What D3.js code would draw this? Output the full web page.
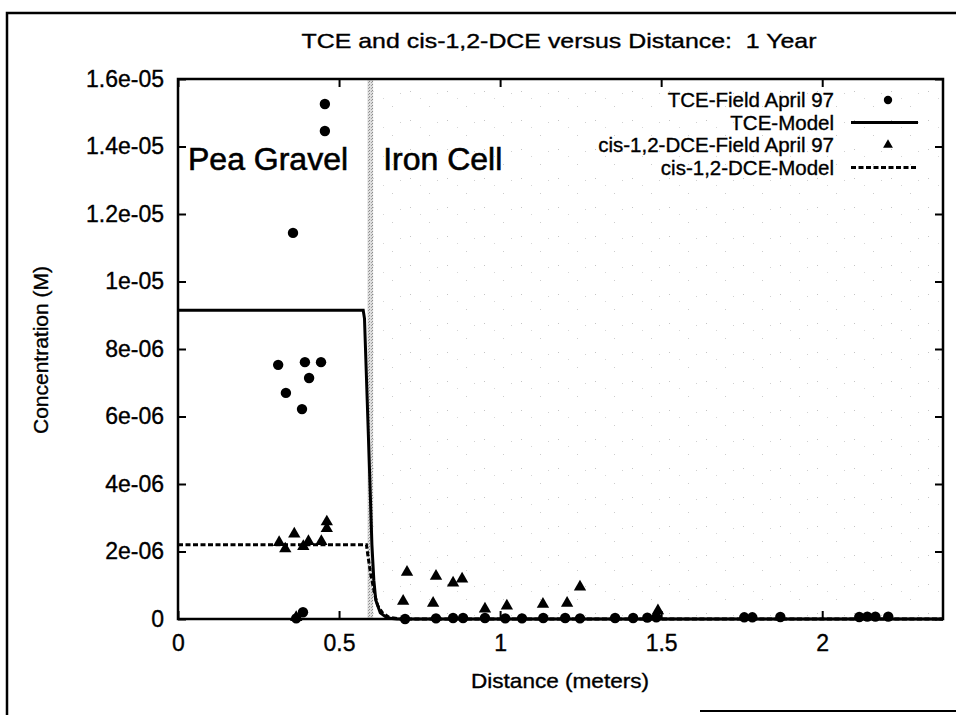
<!DOCTYPE html>
<html>
<head>
<meta charset="utf-8">
<script src="https://cdn.jsdelivr.net/npm/d3@7"></script>
<style>
  html, body { margin: 0; padding: 0; background: #fff; }
  svg text { font-family: "Liberation Sans", Arial, Helvetica, sans-serif; fill: #000; white-space: pre; stroke: #000; stroke-width: 0.35px; }
</style>
</head>
<body>
<div id="chart"></div>
<script>
// ---------------- data ----------------
const titleText = "TCE and cis-1,2-DCE versus Distance:  1 Year";
const xLabelText = "Distance (meters)";
const yLabelText = "Concentration (M)";

const xTicks = [0, 0.5, 1, 1.5, 2];
const xTickLabels = ["0", "0.5", "1", "1.5", "2"];
const yTicks = [0, 2e-6, 4e-6, 6e-6, 8e-6, 1e-5, 1.2e-5, 1.4e-5, 1.6e-5];
const yTickLabels = ["0", "2e-06", "4e-06", "6e-06", "8e-06", "1e-05", "1.2e-05", "1.4e-05", "1.6e-05"];
const xDomain = [0, 2.375];
const yDomain = [0, 1.6e-5];

// TCE field data, April 97 (circles)
const tceFieldX = [0.456, 0.456, 0.357, 0.311, 0.394, 0.444, 0.407, 0.335, 0.385, 0.388, 0.367,
  0.705, 0.801, 0.854, 0.885, 0.953, 1.016, 1.068, 1.134, 1.202, 1.248, 1.357, 1.413, 1.457, 1.485,
  1.758, 1.783, 1.870, 2.115, 2.140, 2.165, 2.205];
const tceFieldY = [1.526e-5, 1.446e-5, 1.144e-5, 7.53e-6, 7.61e-6, 7.61e-6, 7.14e-6, 6.70e-6, 6.22e-6, 2.0e-7, 2.0e-8,
  0, 2.0e-8, 3.0e-8, 3.0e-8, 3.0e-8, 2.0e-8, 2.0e-8, 3.0e-8, 3.0e-8, 2.0e-8, 3.0e-8, 3.0e-8, 4.0e-8, 5.0e-8,
  5.0e-8, 5.0e-8, 6.0e-8, 6.0e-8, 7.0e-8, 7.0e-8, 7.0e-8];

// cis-1,2-DCE field data, April 97 (triangles)
const dceFieldX = [0.314, 0.333, 0.361, 0.389, 0.405, 0.445, 0.462, 0.462, 0.367,
  0.699, 0.711, 0.792, 0.801, 0.854, 0.882, 0.953, 1.021, 1.133, 1.208, 1.248, 1.490];
const dceFieldY = [2.27e-6, 2.08e-6, 2.52e-6, 2.15e-6, 2.30e-6, 2.30e-6, 2.68e-6, 2.88e-6, 5.0e-8,
  5.3e-7, 1.39e-6, 4.7e-7, 1.27e-6, 1.07e-6, 1.19e-6, 3.0e-7, 3.9e-7, 4.4e-7, 4.7e-7, 9.5e-7, 2.5e-7];

// TCE model (solid line)
const tceModelX = [0, 0.575, 0.579, 0.587, 0.595, 0.602, 0.608, 0.614, 0.628, 0.650, 0.680, 2.375];
const tceModelY = [9.15e-6, 9.15e-6, 8.9e-6, 6.6e-6, 4.3e-6, 2.2e-6, 1.15e-6, 5.6e-7, 1.8e-7, 3.0e-8, 0, 0];

// cis-1,2-DCE model (dashed line)
const dceModelX = [0, 0.585, 0.590, 0.597, 0.604, 0.612, 0.620, 0.635, 0.655, 0.690, 2.375];
const dceModelY = [2.2e-6, 2.2e-6, 1.85e-6, 1.4e-6, 1.05e-6, 6.8e-7, 4.0e-7, 1.8e-7, 5.0e-8, 0, 0];

// zone boundary (iron cell starts)
const ironBandX = [0.588, 0.606];
const zoneLabels = ["Pea Gravel", "Iron Cell"];
const zoneLabelX = [0.031, 0.637];

const legendLabels = ["TCE-Field April 97", "TCE-Model", "cis-1,2-DCE-Field April 97", "cis-1,2-DCE-Model"];

// ---------------- drawing ----------------
const W = 956, H = 715;
const plot = { left: 178, right: 943, top: 79, bottom: 619 };

const svg = d3.select("#chart").append("svg")
  .attr("width", W).attr("height", H)
  .attr("viewBox", `0 0 ${W} ${H}`);

svg.append("rect").attr("width", W).attr("height", H).attr("fill", "#fff");

// outer frame (partial, like the scanned page)
const frame = svg.append("g").attr("stroke", "#000").attr("stroke-width", 2.5).attr("fill", "none");
frame.append("path").attr("d", `M7,715 L7,13 L956,13`);
frame.append("path").attr("d", `M700,711 L956,711`).attr("stroke-width", 2);

const x = d3.scaleLinear().domain(xDomain).range([plot.left, plot.right]);
const y = d3.scaleLinear().domain(yDomain).range([plot.bottom, plot.top]);

const defs = svg.append("defs");
// stippled band at the start of the iron cell
const pat = defs.append("pattern").attr("id", "stipple")
  .attr("patternUnits", "userSpaceOnUse").attr("width", 3).attr("height", 3);
pat.append("rect").attr("width", 3).attr("height", 3).attr("fill", "#dedede");
pat.append("rect").attr("x", 0).attr("y", 0).attr("width", 1).attr("height", 1).attr("fill", "#8a8a8a");
pat.append("rect").attr("x", 2).attr("y", 1).attr("width", 1).attr("height", 1).attr("fill", "#a0a0a0");
// faint speckle of the iron-cell fill
const sp = defs.append("pattern").attr("id", "speckle")
  .attr("patternUnits", "userSpaceOnUse").attr("width", 37).attr("height", 29);
sp.append("rect").attr("x", 3).attr("y", 4).attr("width", 1).attr("height", 1).attr("fill", "#c4c4c4");
sp.append("rect").attr("x", 22).attr("y", 19).attr("width", 1).attr("height", 1).attr("fill", "#cccccc");
sp.append("rect").attr("x", 13).attr("y", 11).attr("width", 1).attr("height", 1).attr("fill", "#d6d6d6");
sp.append("rect").attr("x", 30).attr("y", 6).attr("width", 1).attr("height", 1).attr("fill", "#d0d0d0");

svg.append("rect")
  .attr("x", x(ironBandX[1])).attr("y", plot.top)
  .attr("width", plot.right - x(ironBandX[1]))
  .attr("height", plot.bottom - plot.top)
  .attr("fill", "url(#speckle)");

svg.append("rect")
  .attr("x", x(ironBandX[0])).attr("y", plot.top)
  .attr("width", x(ironBandX[1]) - x(ironBandX[0]))
  .attr("height", plot.bottom - plot.top)
  .attr("fill", "url(#stipple)");

// axes with inward ticks on all four sides
const fmtX = (d) => xTickLabels[xTicks.indexOf(d)];
const fmtY = (d) => yTickLabels[yTicks.indexOf(d)];

const gx = svg.append("g").attr("transform", `translate(0,${plot.bottom})`)
  .call(d3.axisBottom(x).tickValues(xTicks).tickFormat(fmtX).tickSize(-8).tickPadding(16));
const gy = svg.append("g").attr("transform", `translate(${plot.left},0)`)
  .call(d3.axisLeft(y).tickValues(yTicks).tickFormat(fmtY).tickSize(-8).tickPadding(14));
const gxt = svg.append("g").attr("transform", `translate(0,${plot.top})`)
  .call(d3.axisTop(x).tickValues(xTicks).tickFormat("").tickSize(-8));
const gyr = svg.append("g").attr("transform", `translate(${plot.right},0)`)
  .call(d3.axisRight(y).tickValues(yTicks).tickFormat("").tickSize(-8));

[gx, gy, gxt, gyr].forEach(g => {
  g.select(".domain").remove();
  g.selectAll(".tick line").attr("stroke", "#000").attr("stroke-width", 2);
  g.selectAll(".tick text").attr("font-size", 23).attr("fill", "#000")
    .style("font-family", '"Liberation Sans", Arial, sans-serif');
});

// plot border
svg.append("rect")
  .attr("x", plot.left).attr("y", plot.top)
  .attr("width", plot.right - plot.left).attr("height", plot.bottom - plot.top)
  .attr("fill", "none").attr("stroke", "#000").attr("stroke-width", 2.5);

// zone labels
svg.selectAll("text.zone").data(zoneLabels).join("text")
  .attr("class", "zone")
  .attr("x", (d, i) => x(zoneLabelX[i]))
  .attr("y", 170)
  .attr("font-size", 32)
  .style("stroke-width", "0.6px")
  .text(d => d);

// model lines
const tceModel = tceModelX.map((v, i) => [v, tceModelY[i]]);
const dceModel = dceModelX.map((v, i) => [v, dceModelY[i]]);
const line = d3.line().x(d => x(d[0])).y(d => y(d[1]));

svg.append("path").datum(tceModel).attr("d", line)
  .attr("fill", "none").attr("stroke", "#000").attr("stroke-width", 3);
svg.append("path").datum(dceModel).attr("d", line)
  .attr("fill", "none").attr("stroke", "#000").attr("stroke-width", 3)
  .attr("stroke-dasharray", "5,2.5");

// field points
const tceField = tceFieldX.map((v, i) => [v, tceFieldY[i]]);
const dceField = dceFieldX.map((v, i) => [v, dceFieldY[i]]);

svg.append("g").selectAll("circle").data(tceField).join("circle")
  .attr("cx", d => x(d[0])).attr("cy", d => y(d[1])).attr("r", 5.2).attr("fill", "#000");

const tri = d3.symbol().type(d3.symbolTriangle).size(66);
svg.append("g").selectAll("path").data(dceField).join("path")
  .attr("transform", d => `translate(${x(d[0])},${y(d[1])})`)
  .attr("d", tri).attr("fill", "#000");

// legend
const legY = [100, 122.5, 145, 167.5];
const leg = svg.append("g");
leg.selectAll("text").data(legendLabels).join("text")
  .attr("x", 834).attr("y", (d, i) => legY[i]).attr("dy", "0.36em")
  .attr("text-anchor", "end").attr("font-size", 20.5)
  .text(d => d);
leg.append("circle").attr("cx", 888).attr("cy", legY[0]).attr("r", 4.2).attr("fill", "#000");
leg.append("line").attr("x1", 851).attr("x2", 918).attr("y1", legY[1]).attr("y2", legY[1])
  .attr("stroke", "#000").attr("stroke-width", 3);
leg.append("path").attr("transform", `translate(888,${legY[2]})`)
  .attr("d", d3.symbol().type(d3.symbolTriangle).size(42)).attr("fill", "#000");
leg.append("line").attr("x1", 851).attr("x2", 918).attr("y1", legY[3]).attr("y2", legY[3])
  .attr("stroke", "#000").attr("stroke-width", 3).attr("stroke-dasharray", "5,2.5");

// title and axis labels
svg.append("text").attr("x", 559).attr("y", 40).attr("dy", "0.36em")
  .attr("text-anchor", "middle").attr("font-size", 21)
  .attr("textLength", 515).attr("lengthAdjust", "spacingAndGlyphs")
  .text(titleText);
svg.append("text").attr("x", 560).attr("y", 680).attr("dy", "0.36em")
  .attr("text-anchor", "middle").attr("font-size", 21)
  .attr("textLength", 178).attr("lengthAdjust", "spacingAndGlyphs")
  .text(xLabelText);
svg.append("text")
  .attr("transform", "translate(40,350) rotate(-90)")
  .attr("dy", "0.36em")
  .attr("text-anchor", "middle").attr("font-size", 21)
  .attr("textLength", 168).attr("lengthAdjust", "spacingAndGlyphs")
  .text(yLabelText);
</script>
</body>
</html>
